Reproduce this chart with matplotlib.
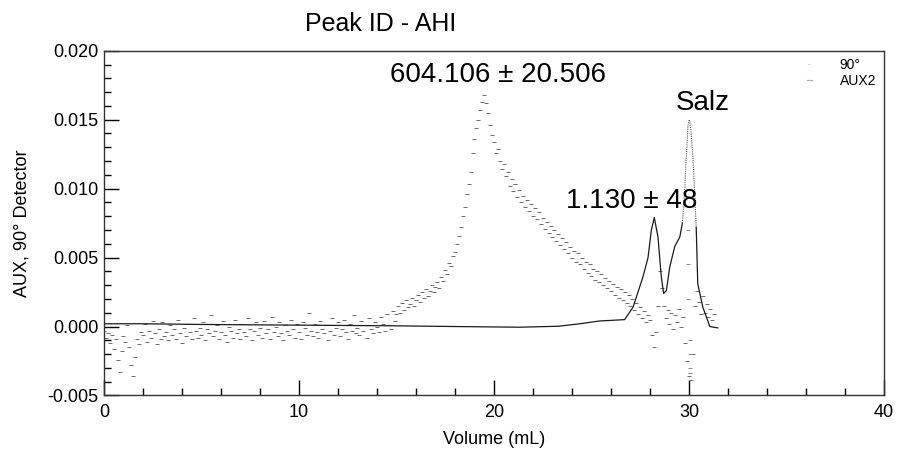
import numpy as np
import matplotlib
matplotlib.use("Agg")
import matplotlib.pyplot as plt

plt.rcParams['font.family'] = ['Liberation Sans', 'DejaVu Sans']

# ---------------- data ----------------
# AUX2 detector trace (solid line), volume in mL, signal in detector units
aux_x = [0.0, 2.0, 5.0, 10.0, 15.0, 18.0, 21.3, 23.3, 24.4, 25.4, 26.7, 27.13, 27.64,
         27.90, 28.07, 28.22, 28.41, 28.58, 28.70, 28.84, 29.01, 29.27, 29.53, 29.66,
         29.75, 29.85, 29.95, 30.02, 30.10, 30.21, 30.37, 30.45, 30.71, 31.07, 31.48]
aux_y = [0.0002, 0.0002, 0.00015, 0.0001, 0.00005, 0.0, -0.00005, 0.00002, 0.0002,
         0.0004, 0.0005, 0.0014, 0.0036, 0.0050, 0.0070, 0.0079, 0.0065, 0.0036,
         0.0024, 0.0026, 0.0043, 0.0058, 0.0065, 0.0075, 0.0091, 0.0120, 0.0146,
         0.0150, 0.0142, 0.0121, 0.0072, 0.0031, 0.0014, 0.0000, -0.0001]
# index range of the steep salt peak, where the sampled trace looks dotted
salt_first, salt_last = 23, 30

# 90 degree light-scattering trace (noisy), sampled every 0.1 mL, values in 1e-3 units
v90_start, v90_step = 0.0, 0.1
y90_milli = [
    -0.3, -0.8, -0.5, -1.2, -0.6, -1.6, -0.9, -2.4, -3.3, -1.8,
    -0.7, -1.1, 0.1, -1.5, -2.8, -3.6, -2.2, -0.9, -1.3, -0.4,
    -0.6, 0.2, -1.1, -0.3, -0.8, 0.4, -0.5, -1.3, -0.2, -0.9,
    0.3, -0.7, -0.4, -1.0, 0.1, -0.6, -0.2, -0.9, 0.5, -0.5,
    -1.2, -0.1, -0.7, 0.2, -0.4, -0.9, 0.6, -0.3, -0.8, -0.1,
    -0.6, 0.3, -1.0, -0.2, -0.5, 0.8, -0.7, -0.3, 0.1, -0.9,
    -0.4, 0.4, -0.6, -1.1, 0.0, -0.3, -0.8, 0.5, -0.5, -0.2,
    -0.9, 0.2, -0.4, -0.7, 0.6, -0.2, -1.0, -0.3, 0.3, -0.6,
    -0.1, -0.8, 0.4, -0.5, -0.2, -0.9, 0.7, -0.4, 0.0, -0.7,
    0.3, -0.5, -1.0, 0.1, -0.3, -0.6, 0.5, -0.2, -0.8, 0.2,
    -0.4, -0.9, 0.3, -0.1, -0.6, 1.0, -0.3, -0.7, 0.2, -0.4,
    -0.8, 0.4, -0.2, -0.5, 0.1, -1.0, -0.3, 0.6, -0.6, -0.1,
    0.3, -0.7, -0.2, 0.5, -0.4, -0.9, 0.2, -0.3, 0.8, -0.5,
    -0.1, -0.6, 0.4, -0.3, 0.1, -0.8, 0.6, -0.2, -0.5, 0.3,
    0.0, -0.4, 0.7, 0.2, -0.3, 0.9, 0.1, -0.2, 1.1, 0.4,
    0.9, 1.5, 1.0, 1.7, 1.2, 1.9, 1.4, 1.6, 2.1, 1.5,
    1.9, 2.3, 1.8, 2.5, 2.1, 2.7, 2.2, 2.6, 3.0, 2.5,
    2.9, 3.2, 2.8, 3.6, 3.3, 4.1, 3.8, 4.6, 4.4, 5.1,
    5.4, 6.0, 6.6, 7.2, 8.0, 8.7, 9.6, 10.3, 11.2, 12.6,
    13.6, 14.4, 15.0, 15.7, 16.3, 16.8, 16.2, 15.5, 14.6, 13.9,
    13.4, 12.6, 12.9, 12.0, 11.4, 11.8, 10.9, 11.2, 10.2, 10.7,
    9.8, 10.3, 9.4, 9.9, 9.0, 9.5, 8.7, 9.2, 8.4, 8.9,
    8.0, 8.6, 7.8, 8.3, 7.4, 7.9, 7.1, 7.6, 6.8, 7.3,
    6.5, 7.0, 6.2, 6.7, 5.9, 6.4, 5.6, 6.1, 5.3, 5.8,
    5.0, 5.5, 4.7, 5.3, 4.5, 5.0, 4.2, 4.7, 3.9, 4.5,
    3.7, 4.2, 3.4, 4.0, 3.2, 3.8, 3.0, 3.5, 2.8, 3.3,
    2.6, 3.1, 2.3, 2.9, 2.1, 2.7, 1.9, 2.5, 1.7, 2.3,
    1.5, 2.0, 1.2, 1.7, 0.9, 1.4, 0.6, 1.1, 0.3, 0.8,
    0.5, -0.6, -1.5, -0.4, 1.5, 4.0, 2.8, 1.5, 0.6, 1.2,
    0.2, 1.0, -0.2, 0.8, 0.3, 1.3, 0.0, 0.7, -1.2, -2.5,
    -3.6, -3.9, -2.0, 1.5, 2.6, 1.8, 0.9, 2.2, 1.0, 1.6,
    0.7, 1.3, 0.5, 0.9,
]
# extra 90 degree points along the salt peak streak
streak_x = [29.95, 29.95, 29.95, 29.95, 30.05, 30.05, 30.05, 30.05]
streak_y_milli = [2.0, 4.5, 7.0, 9.5, -1.0, -2.0, -3.0, -3.4]

annotations = ["604.106 ± 20.506", "1.130 ± 48", "Salz"]
ann_x = [20.2, 27.05, 30.7]
ann_y = [0.0177, 0.0086, 0.0157]

x_ticks = [0, 10, 20, 30, 40]
y_ticks = [-0.005, 0.0, 0.005, 0.010, 0.015, 0.020]

# ---------------- plot ----------------
fig = plt.figure(figsize=(8.97, 4.54), dpi=100)
ax = fig.add_axes([0.1159, 0.1289, 0.9855 - 0.1159, 0.8883 - 0.1289])

x90 = v90_start + v90_step * np.arange(len(y90_milli))
y90 = np.array(y90_milli) * 1e-3

ax.plot(x90, y90, linestyle='none', marker='_', markersize=3.5, markeredgewidth=0.7,
        color='#6a6a6a', label='90°')
ax.plot(streak_x, np.array(streak_y_milli) * 1e-3, linestyle='none', marker='_',
        markersize=2.5, markeredgewidth=0.7, color='#888888')

aux_x_a = np.array(aux_x)
aux_y_a = np.array(aux_y)
ax.plot(aux_x_a[:salt_first + 1], aux_y_a[:salt_first + 1], color='#1a1a1a',
        linewidth=0.9, label='AUX2')
ax.plot(aux_x_a[salt_first:salt_last + 1], aux_y_a[salt_first:salt_last + 1],
        color='#555555', linewidth=0.8, linestyle=(0, (1, 1)))
ax.plot(aux_x_a[salt_last:], aux_y_a[salt_last:], color='#1a1a1a', linewidth=0.9)

for t, xx, yy in zip(annotations, ann_x, ann_y):
    ax.text(xx, yy, t, fontsize=20, ha='center', va='baseline', color='black')

ax.set_xlim(0, 40)
ax.set_ylim(-0.005, 0.020)
ax.set_xticks(x_ticks)
ax.set_yticks(y_ticks)
ax.set_yticklabels([f"{v:.3f}" for v in y_ticks])
ax.xaxis.set_minor_locator(matplotlib.ticker.MultipleLocator(2))
ax.yaxis.set_minor_locator(matplotlib.ticker.MultipleLocator(0.001))
ax.tick_params(which='major', direction='in', length=11, width=1, labelsize=13, pad=4)
ax.tick_params(axis='x', which='major', pad=6)
ax.tick_params(which='minor', direction='in', length=5, width=1)
ax.tick_params(top=False, right=False)
for s in ax.spines.values():
    s.set_linewidth(1)
    s.set_color('#333333')

ax.set_xlabel('Volume (mL)', fontsize=13, labelpad=7)
ax.set_ylabel('AUX, 90° Detector', fontsize=13, labelpad=12)

fig.text(0.340, 0.947, 'Peak ID - AHI', fontsize=18, ha='left', va='center')

leg = ax.legend(loc='upper right', frameon=False, fontsize=10, handlelength=0.4,
                handletextpad=2.0, borderaxespad=0.15, labelspacing=0.1,
                markerscale=0.4)
for h in leg.legend_handles:
    h.set_alpha(0.35)

fig.savefig('out.png', dpi=100)
